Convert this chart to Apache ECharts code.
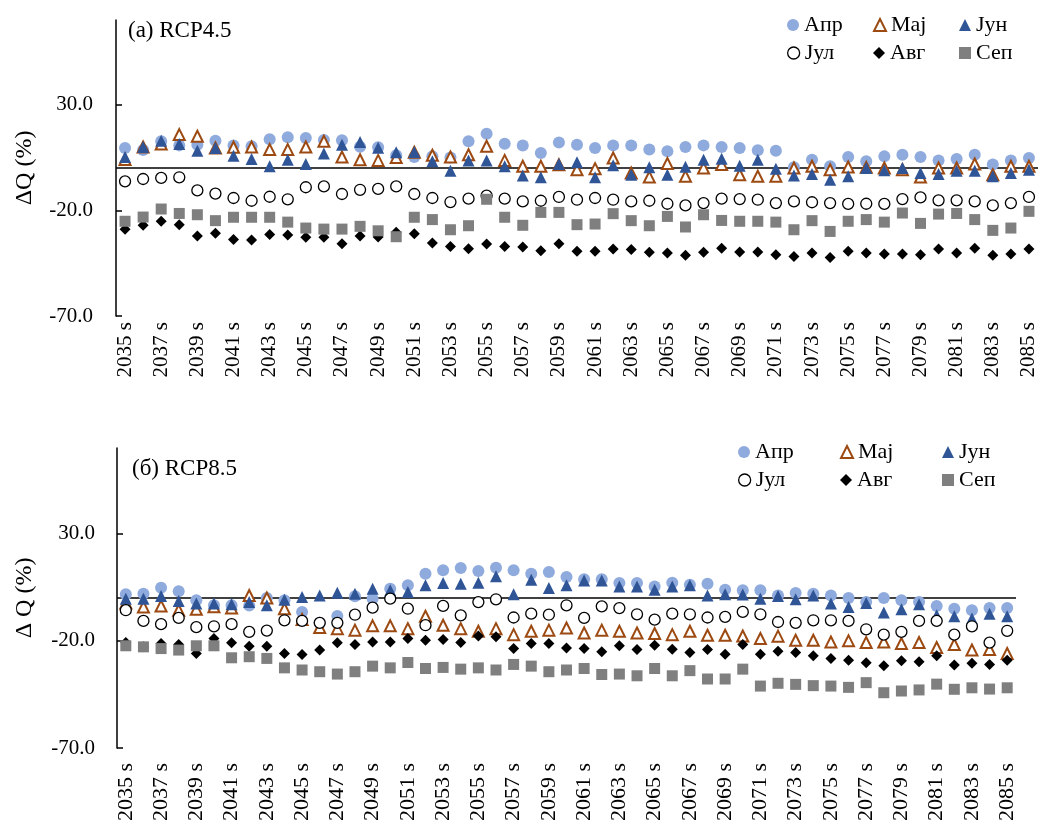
<!DOCTYPE html>
<html>
<head>
<meta charset="utf-8">
<script src="https://cdn.jsdelivr.net/npm/echarts@6/dist/echarts.min.js"></script>
<style>
  html, body { margin: 0; padding: 0; background: #fff; }
  #chart { width: 1040px; height: 825px; }
</style>
</head>
<body>
<div id="chart"></div>
<script>
// decades on the x axis
const categories = ['2035 s', '2036 s', '2037 s', '2038 s', '2039 s', '2040 s', '2041 s', '2042 s', '2043 s', '2044 s',
  '2045 s', '2046 s', '2047 s', '2048 s', '2049 s', '2050 s', '2051 s', '2052 s', '2053 s', '2054 s',
  '2055 s', '2056 s', '2057 s', '2058 s', '2059 s', '2060 s', '2061 s', '2062 s', '2063 s', '2064 s',
  '2065 s', '2066 s', '2067 s', '2068 s', '2069 s', '2070 s', '2071 s', '2072 s', '2073 s', '2074 s',
  '2075 s', '2076 s', '2077 s', '2078 s', '2079 s', '2080 s', '2081 s', '2082 s', '2083 s', '2084 s', '2085 s'];
const yTicks = [-70, -20, 30];
const months = ['Апр', 'Мај', 'Јун', 'Јул', 'Авг', 'Сеп'];

// (a) RCP4.5
const aApr = [9.5, 8.5, 12.6, 10.7, 11, 12.9, 10.6, 10.3, 13.6, 14.5, 14.2, 13.2, 13.1, 10, 9.8, 6.0, 5.2,
  5.5, 5, 12.6, 16.2, 11.5, 10.6, 7.1, 12.1, 11, 9.5, 10.7, 10.6, 8.7, 7.9, 9.9, 10.7, 9.9,
  9.5, 8.4, 8.2, 0.3, 3.9, 0.8, 5.2, 3.2, 5.5, 6.3, 5.2, 3.5, 4.3, 6.3, 1.6, 3.5, 4.7];
const aMaj = [4, 9.9, 11.3, 15.8, 15, 9.5, 9.8, 9.9, 8.7, 8.7, 9.9, 12.6, 5.2, 3.9, 3.6, 5, 7.5,
  6, 5.2, 6.3, 10.3, 3.6, 0.8, 0.8, 1.5, -0.8, -0.3, 4.7, -2.4, -4.3, 2.1, -3.9, 0, 1.6,
  -3.2, -3.9, -3.9, 0, 0.8, -0.8, 0.5, 0.3, 0, -0.8, -4.3, 0, 0, 1.9, -3.2, 0.8, 0.8];
const aJun = [5.2, 9.9, 12.9, 11.4, 8.2, 9.5, 5.8, 4.3, 0.8, 3.9, 1.9, 6.8, 11, 12.3, 9.6, 7.5, 7.6,
  3.2, -1.3, 3.5, 3.5, 0.8, -3.5, -4.4, 1.9, 2.7, -4.4, 1.3, -3.2, 0.3, -3.2, 0.6, 3.9, 4.4,
  1.1, 3.9, -0.3, -3.5, -2.8, -5.5, -3.9, 0, -1.1, 0, -2.4, -2.8, -1.3, -1.3, -3.9, -2.4, -0.8];
const aJul = [-6.3, -5.2, -4.7, -4.4, -10.6, -12.1, -14.2, -15.5, -13.6, -14.8, -9.1, -8.7, -12.3, -10.3, -9.9, -8.7, -12.3,
  -14.2, -16.1, -14.5, -13.1, -14.5, -15.8, -15.5, -13.7, -15, -14.2, -15, -15.8, -15.5, -16.9, -17.7, -16.6, -14.5,
  -14.7, -15, -16.6, -15.8, -16.2, -16.6, -17, -16.9, -17, -14.7, -13.9, -15.3, -15.3, -15.8, -17.7, -16.6, -13.7];
const aAvg = [-29, -27.1, -25.2, -26.8, -32.2, -30.9, -33.8, -34.1, -31.5, -31.7, -32.8, -32.8, -35.8, -32.2, -32.6, -30.4, -31.1,
  -35.5, -37.1, -38.2, -36, -37.1, -37.4, -39.1, -35.8, -39.4, -39.4, -38.3, -38.6, -39.9, -40.2, -41.3, -39.9, -37.9,
  -39.7, -39.7, -41, -41.8, -40.2, -42.3, -39.4, -40.2, -40.7, -40.7, -41, -38.3, -40.2, -37.9, -41.3, -40.7, -38.3];
const aSep = [-25.2, -23.2, -19.4, -21.5, -22.1, -24.9, -23.3, -23.3, -23.3, -25.6, -28.4, -28.9, -28.9, -27.6, -29.7, -32.5, -23.3,
  -24.4, -29.2, -27.3, -14.8, -23.3, -27.1, -21, -21, -26.8, -26.5, -21.6, -24.9, -27.3, -22.9, -27.9, -22.1, -24.8,
  -25.2, -25.2, -25.6, -29.2, -24.9, -30, -25.2, -24.4, -25.6, -21.3, -26.2, -21.8, -21.5, -24.4, -29.5, -28.4, -20.5];

// (б) RCP8.5
const bApr = [1.7, 2, 4.8, 3.1, -1.1, -3.4, -3.4, -3.5, 0, -1, -6.5, -11.6, -8.4, 0.8, -0.3, 4.3, 5.9, 11.3,
  12.9, 14, 12.6, 14.1, 12.9, 11.3, 12.1, 9.8, 8.7, 8.7, 7, 7, 5.4, 7.1, 6.2, 6.7, 3.9,
  3.6, 3.6, 1.2, 2.3, 2, 1.2, 0, -1.9, 0, -1.1, -1.9, -3.7, -5, -5.7, -4.7, -4.7];
const bMaj = [-2.3, -4.2, -3.7, -5.7, -5.3, -4.1, -4.7, 1.2, 0, -5, -10, -13.8, -14.3, -15, -13, -13, -14.3, -8.5,
  -12.7, -14.3, -15.5, -14.3, -17.1, -15.5, -15, -14, -16.3, -15, -15.5, -16.3, -16.6, -17.1, -15.5, -17.4, -17.4,
  -17.7, -18.9, -17.8, -19.7, -19.7, -20.5, -20, -20.8, -20.5, -21.2, -20.8, -23.1, -21.7, -24.3, -24, -25.9];
const bJun = [-0.3, -0.3, 0.9, -1.4, -2.6, -2.6, -2.9, -1.9, -3.4, -0.8, 0.5, 1.2, 2.5, 2, 4.3, 3.6, 2.8, 5.9,
  7, 6.7, 7.1, 10.2, 1.7, 8.5, 4.7, 5.9, 8.2, 8.2, 5.4, 5.4, 3.9, 5.4, 5.9, 1.2, 1.7,
  1.6, -0.3, 0.9, -0.6, 1.2, -2.6, -4.2, -2.3, -6.8, -5.3, -2.9, -8.1, -8.5, -9.6, -7.3, -8.5];
const bJul = [-5.7, -10.7, -12.2, -9.3, -13.6, -13.2, -12.2, -15.8, -15.2, -10.4, -10.7, -11.6, -11.6, -7.8, -4.5, -0.3, -5, -12.7,
  -3.7, -8.1, -1.9, -0.6, -9.1, -7.3, -7.8, -3.4, -9.3, -3.9, -4.7, -7.6, -10.1, -7.3, -7.6, -9.1, -8.8,
  -6.5, -7.6, -11.2, -11.6, -10.4, -10.4, -10.7, -14.6, -17.1, -15.8, -10.7, -10.7, -17.1, -13.2, -20.8, -15.3];
const bAvg = [-20.8, -22.8, -21.2, -21.7, -25.9, -18.9, -20.9, -22.5, -22.5, -25.9, -26.4, -24.3, -20.9, -21.7, -20.5, -20.5, -18.9, -19.7,
  -19.4, -20.8, -17.7, -18.1, -23.6, -21.2, -21.2, -23.3, -23.6, -25.1, -22.3, -24, -22, -23.9, -25.4, -24, -26.2,
  -21.7, -26.2, -24.8, -25.4, -27, -28.2, -29, -30.2, -31.6, -29.3, -29.8, -27, -31.3, -30.5, -31, -29];
const bSep = [-22.3, -22.8, -23.6, -24.3, -22.3, -22.3, -27.9, -27.4, -28.2, -32.6, -33.6, -34.4, -35.5, -34.4, -31.8, -32.6, -30.1, -32.9,
  -32.4, -33.2, -32.6, -33.6, -31, -31.8, -34.4, -33.6, -32.9, -35.7, -35.5, -36.3, -32.9, -36.3, -33.9, -37.8, -37.8,
  -33.2, -41.1, -39.8, -40.3, -40.9, -41.1, -41.7, -39.5, -44.2, -43.4, -42.9, -40.2, -42.6, -41.9, -42.5, -41.9];

const serif = "'Liberation Serif', 'Times New Roman', 'DejaVu Serif', serif";

// marker look of each month (Excel style)
const markStyle = {
  'Апр': { symbol: 'circle', size: 12, itemStyle: { color: '#8FAADC', opacity: 1 } },
  'Мај': { symbol: 'triangle', size: 11, itemStyle: { color: '#fff', borderColor: '#9C4A12', borderWidth: 2, opacity: 1 } },
  'Јун': { symbol: 'triangle', size: 12, itemStyle: { color: '#2F5597', opacity: 1 } },
  'Јул': { symbol: 'circle', size: 11, itemStyle: { color: '#fff', borderColor: '#000', borderWidth: 1.3, opacity: 1 } },
  'Авг': { symbol: 'diamond', size: 11, itemStyle: { color: '#000', opacity: 1 } },
  'Сеп': { symbol: 'rect', size: 11, itemStyle: { color: '#7F7F7F', opacity: 1 } }
};

function makeSeries(idx, lists) {
  return lists.map(function (vals, k) {
    var m = months[k];
    var s = {
      name: m,
      type: 'scatter',
      xAxisIndex: idx,
      yAxisIndex: idx,
      symbol: markStyle[m].symbol,
      symbolSize: markStyle[m].size,
      itemStyle: markStyle[m].itemStyle,
      data: vals,
      emphasis: { disabled: true }
    };
    if (k === 0) {
      // horizontal axis line crossing at 0
      s.markLine = {
        silent: true,
        symbol: 'none',
        z: 1,
        label: { show: false },
        lineStyle: { color: '#000', width: 1.5, type: 'solid', opacity: 1 },
        data: [{ yAxis: 0 }]
      };
    }
    return s;
  });
}

function makeX(idx, fontSize, margin) {
  return {
    type: 'category',
    gridIndex: idx,
    data: categories,
    boundaryGap: true,
    axisLine: { show: false },
    axisTick: { show: false },
    axisLabel: {
      interval: 1,
      rotate: 90,
      margin: margin,
      fontSize: fontSize,
      fontFamily: serif,
      color: '#000'
    },
    splitLine: { show: false }
  };
}

function makeY(idx, title, labelMargin, nameGap) {
  return {
    type: 'value',
    gridIndex: idx,
    min: -70,
    max: 70,
    name: title,
    nameLocation: 'middle',
    nameGap: nameGap,
    nameTextStyle: { fontSize: 24, fontFamily: serif, color: '#000' },
    axisLine: { show: true, lineStyle: { color: '#000', width: 1.5 } },
    axisTick: { show: true, inside: true, length: 6, customValues: yTicks, lineStyle: { color: '#000', width: 1.5 } },
    axisLabel: {
      customValues: yTicks,
      margin: labelMargin,
      fontSize: 21,
      fontFamily: serif,
      color: '#000',
      formatter: function (v) { return v.toFixed(1); }
    },
    splitLine: { show: false }
  };
}

// legend: one component per item, laid out in 2 rows x 3 columns like the original
function makeLegends(colX, rowY) {
  return months.map(function (m, k) {
    var st = markStyle[m];
    return {
      data: [{ name: m, icon: st.symbol, itemStyle: st.itemStyle }],
      left: colX[k % 3] - 6,
      top: rowY[Math.floor(k / 3)] - 11,
      padding: 0,
      itemWidth: 12,
      itemHeight: 12,
      selectedMode: false,
      textStyle: { fontSize: 22, fontFamily: serif, color: '#000' }
    };
  });
}

const chart = echarts.init(document.getElementById('chart'), null, { renderer: 'canvas' });

const option = {
  backgroundColor: '#fff',
  animation: false,
  title: [
    { text: '(a) RCP4.5', left: 128, top: 19, padding: 0,
      textStyle: { fontSize: 23, fontWeight: 'normal', fontFamily: serif, color: '#000' } },
    { text: '(б) RCP8.5', left: 132, top: 457, padding: 0,
      textStyle: { fontSize: 23, fontWeight: 'normal', fontFamily: serif, color: '#000' } }
  ],
  legend: makeLegends([793, 879, 965], [25, 53]).concat(makeLegends([744, 846, 948], [452, 480])),
  grid: [
    { left: 116, top: 20, right: 2, bottom: 509 },
    { left: 117, top: 448, right: 24, bottom: 77 }
  ],
  xAxis: [makeX(0, 21, 6), makeX(1, 22, 15)],
  yAxis: [makeY(0, 'ΔQ (%)', 23, 79), makeY(1, 'Δ Q (%)', 22, 80)],
  series: makeSeries(0, [aApr, aMaj, aJun, aJul, aAvg, aSep])
    .concat(makeSeries(1, [bApr, bMaj, bJun, bJul, bAvg, bSep]))
};

chart.setOption(option);
</script>
</body>
</html>
